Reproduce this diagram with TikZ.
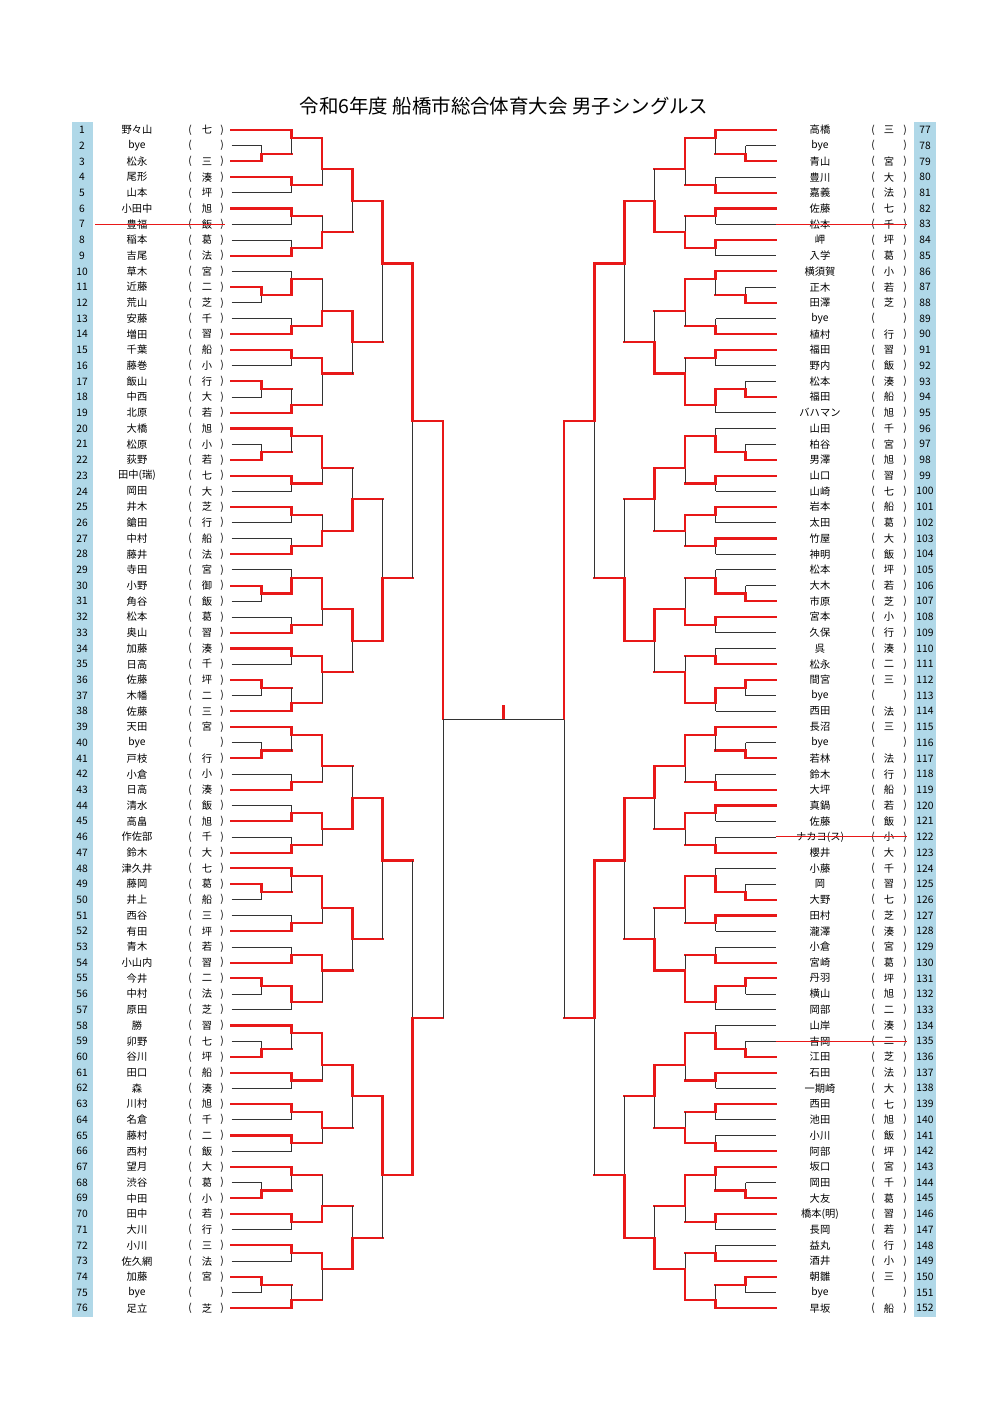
\documentclass[tikz,border=0pt]{standalone}
\usepackage{fontspec}
\setmainfont{Noto Sans CJK JP}
\definecolor{rd}{RGB}{232,24,24}
\definecolor{lbl}{RGB}{176,216,232}
\newcommand\mm[6]{%
  \draw[thinl] (#1,{ry(#3)}) -- (#1,{ry(#4)});
  \draw[redl] (#1,{ry(#6)}) -- (#1,{ry(#5)}) -- (#2,{ry(#5)});
}
\begin{document}
\begin{tikzpicture}[x=0.75pt,y=-0.75pt,
  declare function={ry(\r)=130+(\r-1)*15.71;},
  thinl/.style={draw=black!80, line width=0.6pt},
  redl/.style={draw=rd, line width=1.6pt, line cap=rect},
  strike/.style={draw=rd, line width=0.8pt},
  txt/.style={font=\fontsize{7.7}{9}\selectfont, inner sep=0pt, anchor=center},
  ttl/.style={font=\fontsize{14.6}{17}\selectfont, inner sep=0pt, anchor=center}]
\def\Lo{231.5}\def\La{261.5}\def\Lb{291.5}\def\Lc{322}\def\Ld{352.5}\def\Le{382.5}\def\Lf{412.5}\def\Lg{443}
\def\Ro{775.5}\def\Ra{745.5}\def\Rb{715.5}\def\Rc{685}\def\Rd{654.5}\def\Re{624.5}\def\Rf{594.5}\def\Rg{564}
\useasboundingbox (0,0) rectangle (1000,1414);
\fill[white] (0,0) rectangle (1000,1414);
\node[ttl] (title) at (504,106) {令和6年度 船橋市総合体育大会 男子シングルス};
% number columns
\fill[lbl] (72,122) rectangle (93,1317);
\fill[lbl] (914,122) rectangle (936,1317);
% left players
\foreach \n/\nm/\sc in {1/野々山/七,2/bye/{},3/松永/三,4/尾形/湊,5/山本/坪,6/小田中/旭,7/豊福/飯,8/稲本/葛,9/吉尾/法,10/草木/宮,
11/近藤/二,12/荒山/芝,13/安藤/千,14/増田/習,15/千葉/船,16/藤巻/小,17/飯山/行,18/中西/大,19/北原/若,20/大橋/旭,
21/松原/小,22/荻野/若,23/田中(瑞)/七,24/岡田/大,25/井木/芝,26/鎗田/行,27/中村/船,28/藤井/法,29/寺田/宮,30/小野/御,
31/角谷/飯,32/松本/葛,33/奥山/習,34/加藤/湊,35/日高/千,36/佐藤/坪,37/木幡/二,38/佐藤/三,39/天田/宮,40/bye/{},
41/戸枝/行,42/小倉/小,43/日高/湊,44/清水/飯,45/高畠/旭,46/作佐部/千,47/鈴木/大,48/津久井/七,49/藤岡/葛,50/井上/船,
51/西谷/三,52/有田/坪,53/青木/若,54/小山内/習,55/今井/二,56/中村/法,57/原田/芝,58/勝/習,59/卯野/七,60/谷川/坪,
61/田口/船,62/森/湊,63/川村/旭,64/名倉/千,65/藤村/二,66/西村/飯,67/望月/大,68/渋谷/葛,69/中田/小,70/田中/若,
71/大川/行,72/小川/三,73/佐久網/法,74/加藤/宮,75/bye/{},76/足立/芝}{
  \node[txt] (ln\n) at (82,{ry(\n)}) {\n};
  \node[txt] (lp\n) at (137,{ry(\n)}) {\nm};
  \node[txt] at (190,{ry(\n)}) {(};
  \node[txt] at (207,{ry(\n)}) {\sc};
  \node[txt] at (222,{ry(\n)}) {)};
}
% right players (row = number - 76)
\foreach \r/\nm/\sc in {1/高橋/三,2/bye/{},3/青山/宮,4/豊川/大,5/嘉義/法,6/佐藤/七,7/松本/千,8/岬/坪,9/入学/葛,10/横須賀/小,
11/正木/若,12/田澤/芝,13/bye/{},14/植村/行,15/福田/習,16/野内/飯,17/松本/湊,18/福田/船,19/バハマン/旭,20/山田/千,
21/柏谷/宮,22/男澤/旭,23/山口/習,24/山崎/七,25/岩本/船,26/太田/葛,27/竹屋/大,28/神明/飯,29/松本/坪,30/大木/若,
31/市原/芝,32/宮本/小,33/久保/行,34/呉/湊,35/松永/二,36/間宮/三,37/bye/{},38/西田/法,39/長沼/三,40/bye/{},
41/若林/法,42/鈴木/行,43/大坪/船,44/真鍋/若,45/佐藤/飯,46/ナカヨ(ス)/小,47/櫻井/大,48/小藤/千,49/岡/習,50/大野/七,
51/田村/芝,52/瀧澤/湊,53/小倉/宮,54/宮崎/葛,55/丹羽/坪,56/横山/旭,57/岡部/二,58/山岸/湊,59/吉岡/二,60/江田/芝,
61/石田/法,62/一期崎/大,63/西田/七,64/池田/旭,65/小川/飯,66/阿部/坪,67/坂口/宮,68/岡田/千,69/大友/葛,70/橋本(明)/習,
71/長岡/若,72/益丸/行,73/酒井/小,74/朝雛/三,75/bye/{},76/早坂/船}{
  \pgfmathtruncatemacro\num{\r+76}
  \node[txt] (rn\r) at (925,{ry(\r)}) {\num};
  \node[txt] (rp\r) at (820,{ry(\r)}) {\nm};
  \node[txt] at (873,{ry(\r)}) {(};
  \node[txt] at (889,{ry(\r)}) {\sc};
  \node[txt] at (905,{ry(\r)}) {)};
}
% ---------- left player lines
\foreach \n in {2,12,18,21,31,37,40,50,56,59,68,75} \draw[thinl] (\Lo,{ry(\n)}) -- (\La,{ry(\n)});
\foreach \n in {5,7,8,10,13,16,24,26,27,29,32,35,42,44,46,51,53,57,62,64,66,71,73} \draw[thinl] (\Lo,{ry(\n)}) -- (\Lb,{ry(\n)});
\foreach \n in {3,11,17,22,30,36,41,49,55,60,69,74} \draw[redl] (\Lo,{ry(\n)}) -- (\La,{ry(\n)});
\foreach \n in {1,4,6,9,14,15,19,20,23,25,28,33,34,38,39,43,45,47,48,52,54,58,61,63,65,67,70,72,76} \draw[redl] (\Lo,{ry(\n)}) -- (\Lb,{ry(\n)});
% ---------- right player lines
\foreach \n in {2,11,17,21,30,37,40,49,56,59,68,75} \draw[thinl] (\Ro,{ry(\n)}) -- (\Ra,{ry(\n)});
\foreach \n in {4,7,9,13,16,19,20,24,26,28,29,33,34,38,42,45,46,48,52,53,57,58,62,64,65,71,72} \draw[thinl] (\Ro,{ry(\n)}) -- (\Rb,{ry(\n)});
\foreach \n in {3,12,18,22,31,36,41,50,55,60,69,74} \draw[redl] (\Ro,{ry(\n)}) -- (\Ra,{ry(\n)});
\foreach \n in {1,5,6,8,10,14,15,23,25,27,32,35,39,43,44,47,51,54,61,63,66,67,70,73,76} \draw[redl] (\Ro,{ry(\n)}) -- (\Rb,{ry(\n)});
% ---------- left matches
\foreach \t/\b/\o/\w in {2/3/2.5/3,11/12/11.5/11,17/18/17.5/17,21/22/21.5/22,30/31/30.5/30,36/37/36.5/36,40/41/40.5/41,49/50/49.5/49,55/56/55.5/55,59/60/59.5/60,68/69/68.5/69,74/75/74.5/74}
  {\mm{\La}{\Lb}{\t}{\b}{\o}{\w}}
\foreach \t/\b/\o/\w in {1/2.5/1.5/1,4/5/4.5/4,6/7/6.5/6,8/9/8.5/9,10/11.5/10.5/11.5,13/14/13.5/14,15/16/15.5/15,17.5/19/18.5/19,
  20/21.5/20.5/20,23/24/23.5/23,25/26/25.5/25,27/28/27.5/28,29/30.5/29.5/30.5,32/33/32.5/33,34/35/34.5/34,36.5/38/37.5/38,
  39/40.5/39.5/39,42/43/42.5/43,44/45/44.5/45,46/47/46.5/47,48/49.5/48.5/48,51/52/51.5/52,53/54/53.5/54,55.5/57/56.5/55.5,
  58/59.5/58.5/58,61/62/61.5/61,63/64/63.5/63,65/66/65.5/65,67/68.5/67.5/67,70/71/70.5/70,72/73/72.5/72,74.5/76/75.5/76}
  {\mm{\Lb}{\Lc}{\t}{\b}{\o}{\w}}
\foreach \t/\b/\o/\w in {1.5/4.5/3.5/1.5,6.5/8.5/7.5/8.5,10.5/13.5/12.5/13.5,15.5/18.5/16.5/15.5,20.5/23.5/22.5/20.5,25.5/27.5/26.5/27.5,
  29.5/32.5/31.5/29.5,34.5/37.5/35.5/34.5,39.5/42.5/41.5/39.5,44.5/46.5/45.5/44.5,48.5/51.5/50.5/48.5,53.5/56.5/54.5/53.5,
  58.5/61.5/60.5/58.5,63.5/65.5/64.5/63.5,67.5/70.5/69.5/70.5,72.5/75.5/73.5/72.5}
  {\mm{\Lc}{\Ld}{\t}{\b}{\o}{\w}}
\foreach \t/\b/\o/\w in {3.5/7.5/5.5/3.5,12.5/16.5/14.5/12.5,22.5/26.5/24.5/26.5,31.5/35.5/33.5/31.5,41.5/45.5/43.5/45.5,
  50.5/54.5/52.5/50.5,60.5/64.5/62.5/60.5,69.5/73.5/71.5/73.5}
  {\mm{\Ld}{\Le}{\t}{\b}{\o}{\w}}
\foreach \t/\b/\o/\w in {5.5/14.5/9.5/5.5,24.5/33.5/29.5/33.5,43.5/52.5/47.5/43.5,62.5/71.5/67.5/62.5}
  {\mm{\Le}{\Lf}{\t}{\b}{\o}{\w}}
\foreach \t/\b/\o/\w in {9.5/29.5/19.5/9.5,47.5/67.5/57.5/67.5}
  {\mm{\Lf}{\Lg}{\t}{\b}{\o}{\w}}
% ---------- right matches
\foreach \t/\b/\o/\w in {2/3/2.5/3,11/12/11.5/12,17/18/17.5/18,21/22/21.5/22,30/31/30.5/31,36/37/36.5/36,40/41/40.5/41,49/50/49.5/50,55/56/55.5/55,59/60/59.5/60,68/69/68.5/69,74/75/74.5/74}
  {\mm{\Ra}{\Rb}{\t}{\b}{\o}{\w}}
\foreach \t/\b/\o/\w in {1/2.5/1.5/1,4/5/4.5/5,6/7/6.5/6,8/9/8.5/8,10/11.5/10.5/10,13/14/13.5/14,15/16/15.5/15,17.5/19/18.5/17.5,
  20/21.5/20.5/21.5,23/24/23.5/23,25/26/25.5/25,27/28/27.5/27,29/30.5/29.5/30.5,32/33/32.5/32,34/35/34.5/35,36.5/38/37.5/36.5,
  39/40.5/39.5/39,42/43/42.5/43,44/45/44.5/44,46/47/46.5/47,48/49.5/48.5/49.5,51/52/51.5/51,53/54/53.5/54,55.5/57/56.5/55.5,
  58/59.5/58.5/59.5,61/62/61.5/61,63/64/63.5/63,65/66/65.5/66,67/68.5/67.5/67,70/71/70.5/70,72/73/72.5/73,74.5/76/75.5/76}
  {\mm{\Rb}{\Rc}{\t}{\b}{\o}{\w}}
\foreach \t/\b/\o/\w in {1.5/4.5/3.5/1.5,6.5/8.5/7.5/8.5,10.5/13.5/12.5/10.5,15.5/18.5/16.5/18.5,20.5/23.5/22.5/20.5,25.5/27.5/26.5/25.5,
  29.5/32.5/31.5/32.5,34.5/37.5/35.5/37.5,39.5/42.5/41.5/39.5,44.5/46.5/45.5/44.5,48.5/51.5/50.5/48.5,53.5/56.5/54.5/56.5,
  58.5/61.5/60.5/58.5,63.5/65.5/64.5/65.5,67.5/70.5/69.5/67.5,72.5/75.5/73.5/75.5}
  {\mm{\Rc}{\Rd}{\t}{\b}{\o}{\w}}
\foreach \t/\b/\o/\w in {3.5/7.5/5.5/7.5,12.5/16.5/14.5/16.5,22.5/26.5/24.5/22.5,31.5/35.5/33.5/31.5,41.5/45.5/43.5/41.5,
  50.5/54.5/52.5/54.5,60.5/64.5/62.5/60.5,69.5/73.5/71.5/73.5}
  {\mm{\Rd}{\Re}{\t}{\b}{\o}{\w}}
\foreach \t/\b/\o/\w in {5.5/14.5/9.5/5.5,24.5/33.5/29.5/33.5,43.5/52.5/47.5/43.5,62.5/71.5/67.5/71.5}
  {\mm{\Re}{\Rf}{\t}{\b}{\o}{\w}}
\foreach \t/\b/\o/\w in {9.5/29.5/19.5/9.5,47.5/67.5/57.5/47.5}
  {\mm{\Rf}{\Rg}{\t}{\b}{\o}{\w}}
% ---------- semifinals and final
\draw[thinl] (\Lg,{ry(19.5)}) -- (\Lg,{ry(57.5)});
\draw[redl] (\Lg,{ry(19.5)}) -- (\Lg,{ry(38.5)});
\draw[thinl] (\Rg,{ry(19.5)}) -- (\Rg,{ry(57.5)});
\draw[redl] (\Rg,{ry(19.5)}) -- (\Rg,{ry(38.5)});
\coordinate (fl) at (\Lg,{ry(38.5)});
\coordinate (fr) at (\Rg,{ry(38.5)});
\coordinate (tk) at (503.5,{ry(38.5)});
\coordinate (tktop) at (503.5,705);
\draw[thinl] (fl) -- (fr);
\draw[redl,line cap=butt] (tk) -- (tktop);
% ---------- strike-outs
\draw[strike] (95,{ry(7)}) -- (225,{ry(7)});
\foreach \r in {7,46,59} \draw[strike] (\Ro,{ry(\r)}) -- (907,{ry(\r)});
\end{tikzpicture}
\end{document}
